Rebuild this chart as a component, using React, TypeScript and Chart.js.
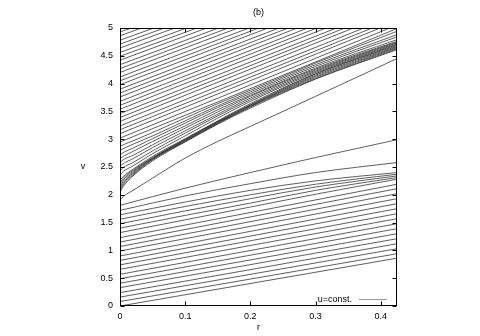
import { useEffect, useRef } from 'react';
import { Chart, registerables } from 'chart.js';

Chart.register(...registerables);

const FONT = '"Liberation Sans", Arial, Helvetica, sans-serif';

const xTickValues = [0, 0.1, 0.2, 0.3, 0.4];
const yTickValues = [0, 0.5, 1, 1.5, 2, 2.5, 3, 3.5, 4, 4.5, 5];
const xMax = 0.425;
const yMax = 5;

// lower family: straight characteristics (start at r=0, end at r=xMax)
const lowerStartV = [0, 0.08, 0.16, 0.24, 0.33, 0.41, 0.49, 0.57, 0.66, 0.74, 0.82, 0.9, 0.99, 1.07, 1.15, 1.23];
const lowerEndV = [0.86, 0.94, 1.03, 1.12, 1.21, 1.3, 1.39, 1.48, 1.57, 1.66, 1.75, 1.84, 1.93, 2.02, 2.11, 2.19];

// lower family: bent characteristics near the top of the family
const lowerCurveR = [0, 0.1, 0.2, 0.3, 0.425];
const lowerCurves = [
  [1.32, 1.55, 1.78, 2.01, 2.28],
  [1.4, 1.63, 1.85, 2.08, 2.31],
  [1.48, 1.71, 1.93, 2.14, 2.34],
  [1.56, 1.79, 2.0, 2.19, 2.37],
  [1.64, 1.87, 2.08, 2.25, 2.4],
  [1.72, 1.98, 2.2, 2.4, 2.58],
  [1.81, 2.12, 2.4, 2.67, 2.99],
];

// fan region
const fanR = [0, 0.005, 0.02, 0.05, 0.1, 0.15, 0.2, 0.3, 0.425];
const separatrix = [1.9, 1.97, 2.08, 2.3, 2.66, 2.96, 3.23, 3.77, 4.45];
const fanCurves = [
  [2.05, 2.15, 2.34, 2.61, 2.95, 3.27, 3.56, 4.08, 4.61],
  [2.08, 2.18, 2.36, 2.63, 2.96, 3.28, 3.58, 4.09, 4.625],
  [2.12, 2.21, 2.38, 2.64, 2.97, 3.29, 3.59, 4.11, 4.64],
  [2.15, 2.24, 2.4, 2.65, 2.98, 3.3, 3.6, 4.13, 4.655],
  [2.19, 2.27, 2.42, 2.66, 2.99, 3.31, 3.61, 4.15, 4.67],
  [2.22, 2.3, 2.44, 2.67, 3.0, 3.32, 3.62, 4.17, 4.685],
  [2.26, 2.33, 2.46, 2.69, 3.01, 3.33, 3.64, 4.18, 4.7],
];
const upperCurves = [
  [2.36, 2.42, 2.52, 2.74, 3.06, 3.38, 3.68, 4.2, 4.715],
  [2.43, 2.49, 2.58, 2.79, 3.11, 3.42, 3.71, 4.22, 4.73],
  [2.51, 2.56, 2.65, 2.85, 3.15, 3.45, 3.74, 4.24, 4.745],
  [2.58, 2.63, 2.71, 2.9, 3.2, 3.49, 3.77, 4.26, 4.76],
  [2.65, 2.69, 2.78, 2.96, 3.24, 3.53, 3.79, 4.28, 4.79],
  [2.72, 2.76, 2.84, 3.01, 3.29, 3.57, 3.82, 4.31, 4.84],
  [2.8, 2.83, 2.91, 3.06, 3.33, 3.6, 3.85, 4.34, 4.88],
  [2.87, 2.9, 2.97, 3.12, 3.38, 3.64, 3.88, 4.37, 4.94],
];

// upper family: straight characteristics leaving through the top edge
const upperStartV = [
  2.95, 3.02, 3.1, 3.17, 3.24, 3.32, 3.39, 3.46, 3.54, 3.61, 3.68, 3.76, 3.83, 3.9,
  3.98, 4.05, 4.12, 4.2, 4.27, 4.34, 4.42, 4.49, 4.56, 4.64, 4.71, 4.78, 4.86, 4.93,
];
const upperEndR = [
  0.425, 0.414, 0.399, 0.387, 0.374, 0.358, 0.345, 0.332, 0.316, 0.302, 0.288, 0.272, 0.258, 0.244,
  0.227, 0.213, 0.198, 0.181, 0.166, 0.151, 0.133, 0.118, 0.102, 0.084, 0.068, 0.052, 0.033, 0.017,
];
const upperEndV = [
  4.99, 5, 5, 5, 5, 5, 5, 5, 5, 5, 5, 5, 5, 5,
  5, 5, 5, 5, 5, 5, 5, 5, 5, 5, 5, 5, 5, 5,
];

const LINE_COLOR = '#2a2a2a';
const LINE_WIDTH = 0.75;

function curve(rs: number[], vs: number[], smooth: boolean) {
  return {
    data: rs.map((r, i) => ({ x: r, y: vs[i] })),
    borderColor: LINE_COLOR,
    borderWidth: LINE_WIDTH,
    pointRadius: 0,
    fill: false,
    cubicInterpolationMode: smooth ? 'monotone' : 'default',
  };
}

function buildDatasets() {
  const ds: any[] = [];
  lowerStartV.forEach((v0, i) => ds.push(curve([0, xMax], [v0, lowerEndV[i]], false)));
  lowerCurves.forEach((vs) => ds.push(curve(lowerCurveR, vs, true)));
  ds.push(curve(fanR, separatrix, true));
  fanCurves.forEach((vs) => ds.push(curve(fanR, vs, true)));
  upperCurves.forEach((vs) => ds.push(curve(fanR, vs, true)));
  upperStartV.forEach((v0, i) => ds.push(curve([0, upperEndR[i]], [v0, upperEndV[i]], false)));
  return ds;
}

const framePlugin = {
  id: 'gnuFrame',
  afterDatasetsDraw(chart: any) {
    const { ctx, chartArea: a, scales } = chart;
    const L = Math.round(a.left) + 0.5;
    const R = Math.round(a.right) - 0.5;
    const T = Math.round(a.top) + 0.5;
    const B = Math.round(a.bottom) - 0.5;
    ctx.save();
    ctx.strokeStyle = '#000';
    ctx.lineWidth = 1;
    ctx.strokeRect(L, T, R - L, B - T);
    const tk = 4;
    ctx.beginPath();
    for (const v of xTickValues) {
      const px = Math.round(scales.x.getPixelForValue(v)) + 0.5;
      ctx.moveTo(px, B);
      ctx.lineTo(px, B - tk);
      ctx.moveTo(px, T);
      ctx.lineTo(px, T + tk);
    }
    for (const v of yTickValues) {
      const py = Math.round(scales.y.getPixelForValue(v)) + 0.5;
      ctx.moveTo(L, py);
      ctx.lineTo(L + tk, py);
      ctx.moveTo(R, py);
      ctx.lineTo(R - tk, py);
    }
    ctx.stroke();

    ctx.fillStyle = '#000';
    ctx.font = `9px ${FONT}`;
    ctx.textBaseline = 'middle';
    // legend
    ctx.textAlign = 'right';
    const ly = Math.round(a.bottom - 7) + 0.5;
    ctx.fillText('u=const.', a.right - 45, ly);
    ctx.strokeStyle = '#777';
    ctx.lineWidth = 0.75;
    ctx.beginPath();
    ctx.moveTo(a.right - 38, ly);
    ctx.lineTo(a.right - 10, ly);
    ctx.stroke();
    // title and axis labels
    ctx.textAlign = 'center';
    const cx = (a.left + a.right) / 2;
    ctx.fillText('(b)', cx, 13);
    ctx.fillText('r', cx, a.bottom + 22);
    ctx.fillText('v', 83, (a.top + a.bottom) / 2);
    ctx.restore();
  },
};

export default function App() {
  const canvasRef = useRef<HTMLCanvasElement | null>(null);

  useEffect(() => {
    const canvas = canvasRef.current;
    if (!canvas) return;
    const chart = new Chart(canvas, {
      type: 'line',
      data: { datasets: buildDatasets() },
      options: {
        animation: false,
        responsive: false,
        maintainAspectRatio: false,
        devicePixelRatio: 1,
        layout: { padding: { top: 28, right: 83, left: 0, bottom: 0 } },
        plugins: { legend: { display: false }, tooltip: { enabled: false }, title: { display: false } },
        events: [],
        scales: {
          x: {
            type: 'linear',
            min: 0,
            max: xMax,
            grid: { display: false, drawTicks: false },
            border: { display: false },
            afterBuildTicks: (s: any) => {
              s.ticks = xTickValues.map((value) => ({ value }));
            },
            afterFit: (s: any) => {
              s.height = 30;
            },
            ticks: {
              autoSkip: false,
              maxRotation: 0,
              padding: 5,
              color: '#000',
              font: { family: FONT, size: 9 },
              callback: (v: any) => String(v),
            },
          },
          y: {
            type: 'linear',
            min: 0,
            max: yMax,
            grid: { display: false, drawTicks: false },
            border: { display: false },
            afterBuildTicks: (s: any) => {
              s.ticks = yTickValues.map((value) => ({ value }));
            },
            afterFit: (s: any) => {
              s.width = 120;
            },
            ticks: {
              autoSkip: false,
              padding: 7,
              color: '#000',
              font: { family: FONT, size: 9 },
              callback: (v: any) => String(v),
            },
          },
        },
      } as any,
      plugins: [framePlugin],
    });
    return () => chart.destroy();
  }, []);

  return (
    <div style={{ position: 'fixed', left: 0, top: 0, width: 480, height: 336, background: '#fff' }}>
      <canvas ref={canvasRef} width={480} height={336} style={{ width: 480, height: 336, display: 'block' }} />
    </div>
  );
}
